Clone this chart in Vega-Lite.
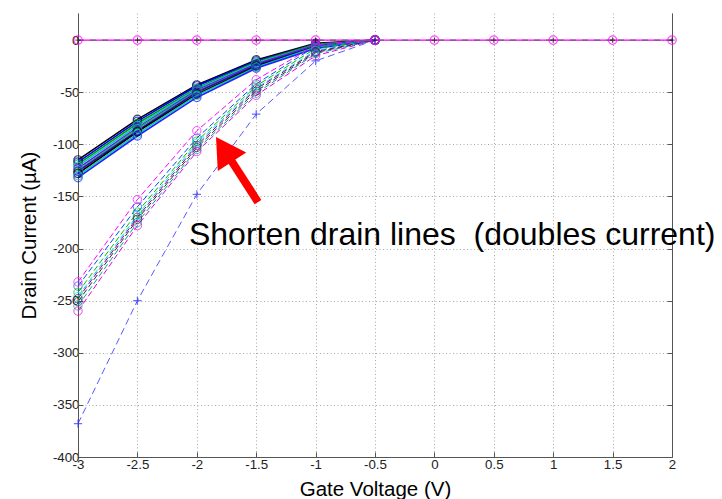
{
  "$schema": "https://vega.github.io/schema/vega-lite/v6.json",
  "width": 594,
  "height": 444,
  "autosize": "none",
  "padding": {"left": 78, "top": 13, "right": 50, "bottom": 42},
  "background": "white",
  "config": {
    "view": {"stroke": null},
    "font": "Liberation Sans",
    "axis": {
      "labelFont": "Liberation Sans",
      "labelFontSize": 13.3,
      "labelColor": "#222222",
      "titleFont": "Liberation Sans",
      "titleFontSize": 20.5,
      "titleFontWeight": "normal",
      "titleColor": "#000000",
      "domainColor": "#555555",
      "tickColor": "#555555",
      "gridColor": "#a8a8a8",
      "gridDash": [1, 2.5],
      "gridWidth": 1
    }
  },
  "datasets": {
    "curves": [
      {"x": -3, "y": -115, "s": "A1"}, {"x": -2.5, "y": -76, "s": "A1"}, {"x": -2, "y": -43, "s": "A1"}, {"x": -1.5, "y": -19, "s": "A1"}, {"x": -1, "y": -3, "s": "A1"}, {"x": -0.5, "y": 0, "s": "A1"},
      {"x": -3, "y": -117, "s": "A2"}, {"x": -2.5, "y": -78, "s": "A2"}, {"x": -2, "y": -44, "s": "A2"}, {"x": -1.5, "y": -20, "s": "A2"}, {"x": -1, "y": -4, "s": "A2"}, {"x": -0.5, "y": 0, "s": "A2"},
      {"x": -3, "y": -119, "s": "A3"}, {"x": -2.5, "y": -80, "s": "A3"}, {"x": -2, "y": -46, "s": "A3"}, {"x": -1.5, "y": -21, "s": "A3"}, {"x": -1, "y": -4, "s": "A3"}, {"x": -0.5, "y": 0, "s": "A3"},
      {"x": -3, "y": -121, "s": "A4"}, {"x": -2.5, "y": -82, "s": "A4"}, {"x": -2, "y": -47, "s": "A4"}, {"x": -1.5, "y": -22, "s": "A4"}, {"x": -1, "y": -5, "s": "A4"}, {"x": -0.5, "y": 0, "s": "A4"},
      {"x": -3, "y": -123, "s": "A5"}, {"x": -2.5, "y": -84, "s": "A5"}, {"x": -2, "y": -48, "s": "A5"}, {"x": -1.5, "y": -23, "s": "A5"}, {"x": -1, "y": -5, "s": "A5"}, {"x": -0.5, "y": 0, "s": "A5"},
      {"x": -3, "y": -125, "s": "A6"}, {"x": -2.5, "y": -85, "s": "A6"}, {"x": -2, "y": -49, "s": "A6"}, {"x": -1.5, "y": -24, "s": "A6"}, {"x": -1, "y": -6, "s": "A6"}, {"x": -0.5, "y": 0, "s": "A6"},
      {"x": -3, "y": -126, "s": "A7"}, {"x": -2.5, "y": -87, "s": "A7"}, {"x": -2, "y": -50, "s": "A7"}, {"x": -1.5, "y": -24, "s": "A7"}, {"x": -1, "y": -6, "s": "A7"}, {"x": -0.5, "y": 0, "s": "A7"},
      {"x": -3, "y": -128, "s": "A8"}, {"x": -2.5, "y": -88, "s": "A8"}, {"x": -2, "y": -52, "s": "A8"}, {"x": -1.5, "y": -25, "s": "A8"}, {"x": -1, "y": -7, "s": "A8"}, {"x": -0.5, "y": 0, "s": "A8"},
      {"x": -3, "y": -130, "s": "A9"}, {"x": -2.5, "y": -90, "s": "A9"}, {"x": -2, "y": -53, "s": "A9"}, {"x": -1.5, "y": -26, "s": "A9"}, {"x": -1, "y": -7, "s": "A9"}, {"x": -0.5, "y": 0, "s": "A9"},
      {"x": -3, "y": -132, "s": "A10"}, {"x": -2.5, "y": -92, "s": "A10"}, {"x": -2, "y": -55, "s": "A10"}, {"x": -1.5, "y": -27, "s": "A10"}, {"x": -1, "y": -8, "s": "A10"}, {"x": -0.5, "y": 0, "s": "A10"},
      {"x": -3, "y": -236, "s": "B1"}, {"x": -2.5, "y": -160, "s": "B1"}, {"x": -2, "y": -94, "s": "B1"}, {"x": -1.5, "y": -42, "s": "B1"}, {"x": -1, "y": -6, "s": "B1"}, {"x": -0.5, "y": 0, "s": "B1"},
      {"x": -3, "y": -232, "s": "B2"}, {"x": -2.5, "y": -153, "s": "B2"}, {"x": -2, "y": -87, "s": "B2"}, {"x": -1.5, "y": -38, "s": "B2"}, {"x": -1, "y": -5, "s": "B2"}, {"x": -0.5, "y": 0, "s": "B2"},
      {"x": -3, "y": -242, "s": "B3"}, {"x": -2.5, "y": -165, "s": "B3"}, {"x": -2, "y": -97, "s": "B3"}, {"x": -1.5, "y": -44, "s": "B3"}, {"x": -1, "y": -8, "s": "B3"}, {"x": -0.5, "y": 0, "s": "B3"},
      {"x": -3, "y": -246, "s": "B4"}, {"x": -2.5, "y": -168, "s": "B4"}, {"x": -2, "y": -99, "s": "B4"}, {"x": -1.5, "y": -46, "s": "B4"}, {"x": -1, "y": -10, "s": "B4"}, {"x": -0.5, "y": 0, "s": "B4"},
      {"x": -3, "y": -248, "s": "B5"}, {"x": -2.5, "y": -170, "s": "B5"}, {"x": -2, "y": -101, "s": "B5"}, {"x": -1.5, "y": -47, "s": "B5"}, {"x": -1, "y": -11, "s": "B5"}, {"x": -0.5, "y": 0, "s": "B5"},
      {"x": -3, "y": -251, "s": "B6"}, {"x": -2.5, "y": -172, "s": "B6"}, {"x": -2, "y": -103, "s": "B6"}, {"x": -1.5, "y": -49, "s": "B6"}, {"x": -1, "y": -12, "s": "B6"}, {"x": -0.5, "y": 0, "s": "B6"},
      {"x": -3, "y": -255, "s": "B7"}, {"x": -2.5, "y": -175, "s": "B7"}, {"x": -2, "y": -105, "s": "B7"}, {"x": -1.5, "y": -51, "s": "B7"}, {"x": -1, "y": -13, "s": "B7"}, {"x": -0.5, "y": 0, "s": "B7"},
      {"x": -3, "y": -260, "s": "B8"}, {"x": -2.5, "y": -178, "s": "B8"}, {"x": -2, "y": -107, "s": "B8"}, {"x": -1.5, "y": -53, "s": "B8"}, {"x": -1, "y": -15, "s": "B8"}, {"x": -0.5, "y": 0, "s": "B8"},
      {"x": -3, "y": -368, "s": "P"}, {"x": -2.5, "y": -250, "s": "P"}, {"x": -2, "y": -148, "s": "P"}, {"x": -1.5, "y": -71, "s": "P"}, {"x": -1, "y": -20, "s": "P"}, {"x": -0.5, "y": 0, "s": "P"},
      {"x": -3, "y": 0, "s": "Z"}, {"x": -2.5, "y": 0, "s": "Z"}, {"x": -2, "y": 0, "s": "Z"}, {"x": -1.5, "y": 0, "s": "Z"}, {"x": -1, "y": 0, "s": "Z"}, {"x": -0.5, "y": 0, "s": "Z"},
      {"x": 0, "y": 0, "s": "Z"}, {"x": 0.5, "y": 0, "s": "Z"}, {"x": 1, "y": 0, "s": "Z"}, {"x": 1.5, "y": 0, "s": "Z"}, {"x": 2, "y": 0, "s": "Z"}
    ],
    "arrow": [{"x": -1.485, "y": -155.4, "x2": -1.771, "y2": -104.8}],
    "note": [{"x": -2.066, "y": -196.6, "label": "Shorten drain lines\u00a0\u00a0(doubles current)"}]
  },
  "layer": [
    {
      "data": {"name": "curves"},
      "transform": [{"filter": "indexof(datum.s, 'A') == 0"}],
      "mark": {"type": "line", "strokeWidth": 1.6},
      "encoding": {
        "x": {"field": "x", "type": "quantitative", "scale": {"domain": [-3, 2], "nice": false},
          "axis": {"title": "Gate Voltage (V)", "values": [-3, -2.5, -2, -1.5, -1, -0.5, 0, 0.5, 1, 1.5, 2], "labelExpr": "'' + datum.value", "tickSize": -5, "labelPadding": 5, "titlePadding": 9, "grid": true, "labelFlush": false}},
        "y": {"field": "y", "type": "quantitative", "scale": {"domain": [-400, 26], "nice": false, "zero": false},
          "axis": {"title": "Drain Current (µA)", "values": [-400, -350, -300, -250, -200, -150, -100, -50, 0], "labelExpr": "'' + datum.value", "tickSize": -5, "labelPadding": 4, "titlePadding": 13, "grid": true}},
        "color": {"field": "s", "type": "nominal", "legend": null,
          "scale": {"domain": ["A1","A2","A3","A4","A5","A6","A7","A8","A9","A10","B1","B2","B3","B4","B5","B6","B7","B8","P","Z"],
            "range": ["#000000","#0000ff","#00a000","#00cccc","#8000ff","#00c060","#4000c0","#000000","#00d0a0","#2020ff","#0050ff","#ff00ff","#00c000","#00e0e0","#8000a0","#303030","#00a0a0","#e000e0","#3030ff","#ff00ff"]}}
      }
    },
    {
      "data": {"name": "curves"},
      "transform": [{"filter": "indexof(datum.s, 'A') == 0"}],
      "mark": {"type": "point", "shape": "circle", "filled": false, "size": 70, "strokeWidth": 1.2},
      "encoding": {
        "x": {"field": "x", "type": "quantitative"},
        "y": {"field": "y", "type": "quantitative", "axis": {"orient": "right", "title": null, "labels": false, "grid": false, "values": [-400, -350, -300, -250, -200, -150, -100, -50, 0], "tickSize": -5}},
        "color": {"field": "s", "type": "nominal", "legend": null}
      }
    },
    {
      "data": {"name": "curves"},
      "transform": [{"filter": "indexof(datum.s, 'B') == 0"}],
      "mark": {"type": "line", "strokeWidth": 1, "strokeDash": [6, 3]},
      "encoding": {
        "x": {"field": "x", "type": "quantitative"},
        "y": {"field": "y", "type": "quantitative", "axis": null},
        "color": {"field": "s", "type": "nominal", "legend": null}
      }
    },
    {
      "data": {"name": "curves"},
      "transform": [{"filter": "indexof(datum.s, 'B') == 0"}],
      "mark": {"type": "point", "shape": "circle", "filled": false, "size": 70, "strokeWidth": 1},
      "encoding": {
        "x": {"field": "x", "type": "quantitative"},
        "y": {"field": "y", "type": "quantitative", "axis": null},
        "color": {"field": "s", "type": "nominal", "legend": null}
      }
    },
    {
      "data": {"name": "curves"},
      "transform": [{"filter": "datum.s == 'P'"}],
      "mark": {"type": "line", "strokeWidth": 1, "strokeDash": [7, 4], "opacity": 0.8},
      "encoding": {
        "x": {"field": "x", "type": "quantitative"},
        "y": {"field": "y", "type": "quantitative", "axis": null},
        "color": {"field": "s", "type": "nominal", "legend": null}
      }
    },
    {
      "data": {"name": "curves"},
      "transform": [{"filter": "datum.s == 'P'"}],
      "mark": {"type": "point", "shape": "M-1,0L1,0M0,-1L0,1", "filled": false, "size": 70, "strokeWidth": 1.2},
      "encoding": {
        "x": {"field": "x", "type": "quantitative"},
        "y": {"field": "y", "type": "quantitative", "axis": null},
        "color": {"field": "s", "type": "nominal", "legend": null}
      }
    },
    {
      "data": {"name": "curves"},
      "transform": [{"filter": "datum.s == 'Z'"}],
      "mark": {"type": "line", "strokeWidth": 1.2},
      "encoding": {
        "x": {"field": "x", "type": "quantitative"},
        "y": {"field": "y", "type": "quantitative", "axis": null},
        "color": {"field": "s", "type": "nominal", "legend": null}
      }
    },
    {
      "data": {"name": "curves"},
      "transform": [{"filter": "datum.s == 'Z'"}],
      "mark": {"type": "line", "strokeWidth": 1, "strokeDash": [6, 6], "color": "#606060"},
      "encoding": {
        "x": {"field": "x", "type": "quantitative"},
        "y": {"field": "y", "type": "quantitative", "axis": null}
      }
    },
    {
      "data": {"name": "curves"},
      "transform": [{"filter": "datum.s == 'Z'"}],
      "mark": {"type": "point", "shape": "circle", "filled": false, "size": 70, "strokeWidth": 1.3},
      "encoding": {
        "x": {"field": "x", "type": "quantitative"},
        "y": {"field": "y", "type": "quantitative", "axis": null},
        "color": {"field": "s", "type": "nominal", "legend": null}
      }
    },
    {
      "data": {"name": "curves"},
      "transform": [{"filter": "datum.s == 'Z'"}],
      "mark": {"type": "point", "shape": "M-1,0L1,0M0,-1L0,1", "filled": false, "size": 30, "strokeWidth": 1, "color": "#000000"},
      "encoding": {
        "x": {"field": "x", "type": "quantitative"},
        "y": {"field": "y", "type": "quantitative", "axis": null}
      }
    },
    {
      "data": {"name": "arrow"},
      "mark": {"type": "rule", "color": "#ff0000", "strokeWidth": 8},
      "encoding": {
        "x": {"field": "x", "type": "quantitative"},
        "y": {"field": "y", "type": "quantitative", "axis": null},
        "x2": {"field": "x2"},
        "y2": {"field": "y2"}
      }
    },
    {
      "data": {"name": "arrow"},
      "mark": {"type": "point", "shape": "triangle-up", "filled": true, "color": "#ff0000", "size": 1150, "angle": 327, "opacity": 1},
      "encoding": {
        "x": {"field": "x2", "type": "quantitative"},
        "y": {"field": "y2", "type": "quantitative", "axis": null}
      }
    },
    {
      "data": {"name": "note"},
      "mark": {"type": "text", "align": "left", "baseline": "alphabetic", "font": "Liberation Sans", "fontSize": 32, "color": "#000000"},
      "encoding": {
        "x": {"field": "x", "type": "quantitative"},
        "y": {"field": "y", "type": "quantitative", "axis": null},
        "text": {"field": "label"}
      }
    }
  ],
  "resolve": {"axis": {"y": "independent"}}
}
